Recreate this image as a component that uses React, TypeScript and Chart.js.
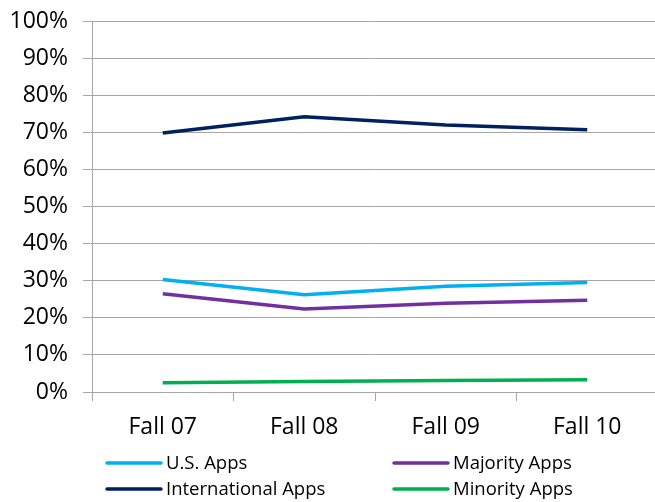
import React, { useEffect, useRef } from "react";
import { Chart, registerables } from "chart.js";

Chart.register(...registerables);

const categories = ["Fall 07", "Fall 08", "Fall 09", "Fall 10"];
const usApps = [30.3, 26.2, 28.5, 29.5];
const majorityApps = [26.5, 22.4, 23.9, 24.7];
const internationalApps = [69.8, 74.2, 72.0, 70.7];
const minorityApps = [2.5, 2.8, 3.1, 3.3];

const seriesNames = ["U.S. Apps", "Majority Apps", "International Apps", "Minority Apps"];
const seriesColors = ["#00B0F0", "#7030A0", "#002060", "#00B050"];
const seriesValues = [usApps, majorityApps, internationalApps, minorityApps];

const FONT = "'Open Sans', 'Liberation Sans', sans-serif";
const GRID = "#a6a6a6";

const legendPlugin = {
  id: "gridLegend",
  afterDraw(chart: any) {
    const ctx = chart.ctx;
    const colX = [107, 394];
    const rowY = [463, 489];
    ctx.save();
    chart.data.datasets.forEach((ds: any, i: number) => {
      const x = colX[i % 2];
      const y = rowY[Math.floor(i / 2)];
      ctx.strokeStyle = ds.borderColor;
      ctx.lineWidth = 3.5;
      ctx.lineCap = "round";
      ctx.beginPath();
      ctx.moveTo(x, y);
      ctx.lineTo(x + 54, y);
      ctx.stroke();
      ctx.fillStyle = "#000";
      ctx.font = `18.5px ${FONT}`;
      ctx.textBaseline = "middle";
      ctx.textAlign = "left";
      ctx.fillText(ds.label, x + 59, y + 1);
    });
    ctx.restore();
  },
};

export default function App() {
  const ref = useRef<HTMLCanvasElement | null>(null);
  useEffect(() => {
    if (!ref.current) return;
    const chart = new Chart(ref.current, {
      type: "line",
      data: {
        labels: categories,
        datasets: seriesNames.map((name, i) => ({
          label: name,
          data: seriesValues[i],
          borderColor: seriesColors[i],
          backgroundColor: seriesColors[i],
          borderWidth: 3.5,
          pointRadius: 0,
          tension: 0,
          fill: false,
        })),
      },
      options: {
        animation: false,
        responsive: false,
        devicePixelRatio: 1,
        layout: { padding: { left: 0, right: 4, top: 21, bottom: 60 } },
        plugins: { legend: { display: false }, tooltip: { enabled: false } },
        scales: {
          x: {
            offset: true,
            grid: {
              display: true,
              drawOnChartArea: false,
              drawTicks: true,
              tickLength: 9,
              color: GRID,
              offset: true,
            },
            border: { display: true, color: GRID },
            ticks: { color: "#000", font: { family: FONT, size: 23 }, padding: 13, maxRotation: 0 },
            afterFit: (s: any) => {
              s.height = 50;
            },
          },
          y: {
            min: 0,
            max: 100,
            grid: { color: GRID, tickLength: 9, drawTicks: true },
            border: { display: true, color: GRID },
            ticks: {
              stepSize: 10,
              color: "#000",
              font: { family: FONT, size: 23 },
              padding: 15,
              callback: (v: any) => `${v}%`,
            },
            afterFit: (s: any) => {
              s.width = 92;
              s.paddingTop = 0;
              s.paddingBottom = 0;
            },
          },
        },
      },
      plugins: [legendPlugin],
    });
    return () => chart.destroy();
  }, []);
  return (
    <div style={{ position: "absolute", left: 0, top: 0, width: 655, height: 502, overflow: "hidden", background: "#fff" }}>
      <canvas ref={ref} width={662} height={502} style={{ width: 662, height: 502, display: "block" }} />
    </div>
  );
}
